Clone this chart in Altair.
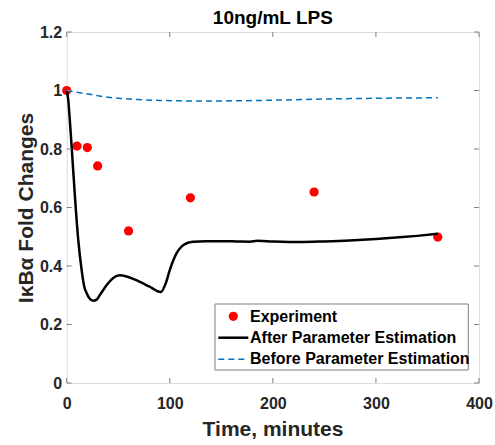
import altair as alt
import pandas as pd

# ---- data ----
exp_t = [0, 10, 20, 30, 60, 120, 240, 360]
exp_y = [1.0, 0.81, 0.805, 0.742, 0.52, 0.633, 0.653, 0.499]

after_t = [0, 1.5, 3, 4.8, 8.0, 11.2, 14.5, 17, 19.4, 22, 25.8, 29, 32, 35.4, 40, 45.1,
           51.6, 58, 65, 71, 80, 91.4, 96, 100, 106.5, 111, 114.6, 122.6, 135, 148.5,
           165, 177.5, 185, 200, 226, 250, 274.4, 300, 322.8, 340, 360]
after_y = [1.0, 0.968, 0.90, 0.808, 0.637, 0.489, 0.386, 0.33, 0.307, 0.29, 0.281, 0.285,
           0.30, 0.318, 0.34, 0.359, 0.368, 0.364, 0.355, 0.346, 0.33, 0.311, 0.34, 0.386,
           0.443, 0.465, 0.475, 0.483, 0.485, 0.485, 0.484, 0.483, 0.486, 0.484, 0.482,
           0.484, 0.487, 0.492, 0.498, 0.503, 0.51]

before_t = [0, 10, 25.8, 40, 51.6, 70, 90, 139, 187, 252, 316, 360]
before_y = [1.0, 0.994, 0.985, 0.977, 0.973, 0.969, 0.966, 0.964, 0.966, 0.971, 0.974, 0.975]

x_ticks = [0, 100, 200, 300, 400]
y_ticks = [0, 0.2, 0.4, 0.6, 0.8, 1.0, 1.2]

chart_title = "10ng/mL LPS"
legend_labels = ["Experiment", "After Parameter Estimation", "Before Parameter Estimation"]

# ---- layout ----
W, H = 412.3, 351
FONT = "Liberation Sans"
AX = "#808080"
TXT = "#262626"
BLUE = "#0072BD"

df_exp = pd.DataFrame({"t": exp_t, "y": exp_y})
df_after = pd.DataFrame({"t": after_t, "y": after_y})
df_before = pd.DataFrame({"t": before_t, "y": before_y})
df_xt = pd.DataFrame({"t": x_ticks})
df_yt = pd.DataFrame({"y": y_ticks})
df_one = pd.DataFrame({"k": [0]})

xs = alt.Scale(domain=[0, 400], nice=False, zero=False)
ys = alt.Scale(domain=[0, 1.2], nice=False, zero=False)

xaxis = alt.Axis(values=x_ticks, labelFontSize=16, labelFontWeight="bold", labelColor=TXT,
                 labelFont=FONT, ticks=False, domain=False, grid=False, labelPadding=12,
                 labelFlush=False, title="Time, minutes", titleFontSize=21,
                 titleFontWeight="bold", titleColor=TXT, titleFont=FONT,
                 titleX=205.8, titleY=52, titleBaseline="alphabetic", titleAlign="center")
yaxis = alt.Axis(values=y_ticks, format="~g", labelFontSize=16, labelFontWeight="bold",
                 labelColor=TXT, labelFont=FONT, ticks=False, domain=False, grid=False,
                 labelPadding=5, title="IκBα Fold Changes", titleFontSize=21,
                 titleFontWeight="bold", titleColor=TXT, titleFont=FONT, titleAngle=270,
                 titleX=-34.5, titleY=H / 2, titleBaseline="alphabetic", titleAlign="center")

points = alt.Chart(df_exp).mark_circle(size=85, color="#ff0000", opacity=1).encode(
    x=alt.X("t:Q", scale=xs, axis=xaxis),
    y=alt.Y("y:Q", scale=ys, axis=yaxis),
)
after = alt.Chart(df_after).mark_line(color="black", strokeWidth=2.5, interpolate="monotone").encode(
    x=alt.X("t:Q", scale=xs), y=alt.Y("y:Q", scale=ys))
before = alt.Chart(df_before).mark_line(color=BLUE, strokeWidth=1.5, strokeDash=[6, 4],
                                        interpolate="monotone").encode(
    x=alt.X("t:Q", scale=xs), y=alt.Y("y:Q", scale=ys))

# inward ticks on all four sides
xt_bottom = alt.Chart(df_xt).mark_rule(color=AX, strokeWidth=1).encode(
    x=alt.X("t:Q", scale=xs), y=alt.value(H), y2=alt.value(H - 5))
xt_top = alt.Chart(df_xt).mark_rule(color=AX, strokeWidth=1).encode(
    x=alt.X("t:Q", scale=xs), y=alt.value(0), y2=alt.value(5))
yt_left = alt.Chart(df_yt).mark_rule(color=AX, strokeWidth=1).encode(
    y=alt.Y("y:Q", scale=ys), x=alt.value(0), x2=alt.value(5))
yt_right = alt.Chart(df_yt).mark_rule(color=AX, strokeWidth=1).encode(
    y=alt.Y("y:Q", scale=ys), x=alt.value(W - 5), x2=alt.value(W))

# title as a text mark above the plot
title_mark = alt.Chart(df_one).mark_text(text=chart_title, align="center", baseline="alphabetic",
                                         fontSize=19, fontWeight="bold", font=FONT,
                                         color="black").encode(
    x=alt.value(W / 2), y=alt.value(-8))

# legend
lg_box = alt.Chart(df_one).mark_rect(fill="white", stroke=AX, strokeWidth=1).encode(
    x=alt.value(148.3), x2=alt.value(401.6), y=alt.value(272), y2=alt.value(338))
lg_pt = alt.Chart(df_one).mark_circle(size=85, color="#ff0000", opacity=1).encode(
    x=alt.value(166.6), y=alt.value(284.3))
lg_solid = alt.Chart(df_one).mark_rule(color="black", strokeWidth=2.5).encode(
    x=alt.value(151.6), x2=alt.value(181.6), y=alt.value(305.7))
lg_dash = alt.Chart(df_one).mark_rule(color=BLUE, strokeWidth=1.5, strokeDash=[6, 4]).encode(
    x=alt.value(151.6), x2=alt.value(181.6), y=alt.value(327.3))
lg_texts = []
for lab, yy in zip(legend_labels, [284.7, 305.5, 327.0]):
    lg_texts.append(
        alt.Chart(df_one).mark_text(text=lab, align="left", baseline="middle", fontSize=16,
                                    fontWeight="bold", font=FONT, color="black").encode(
            x=alt.value(183.3), y=alt.value(yy))
    )

chart = alt.layer(
    points, after, before, xt_bottom, xt_top, yt_left, yt_right, title_mark,
    lg_box, lg_pt, lg_solid, lg_dash, *lg_texts
).properties(
    width=W, height=H,
    autosize=alt.AutoSizeParams(type="none"),
    padding={"left": 66.7, "top": 32, "right": 16, "bottom": 62},
).configure_view(stroke=AX, strokeWidth=1).configure(background="white")

chart.save("out.html", embed_options={"renderer": "svg", "actions": False})
